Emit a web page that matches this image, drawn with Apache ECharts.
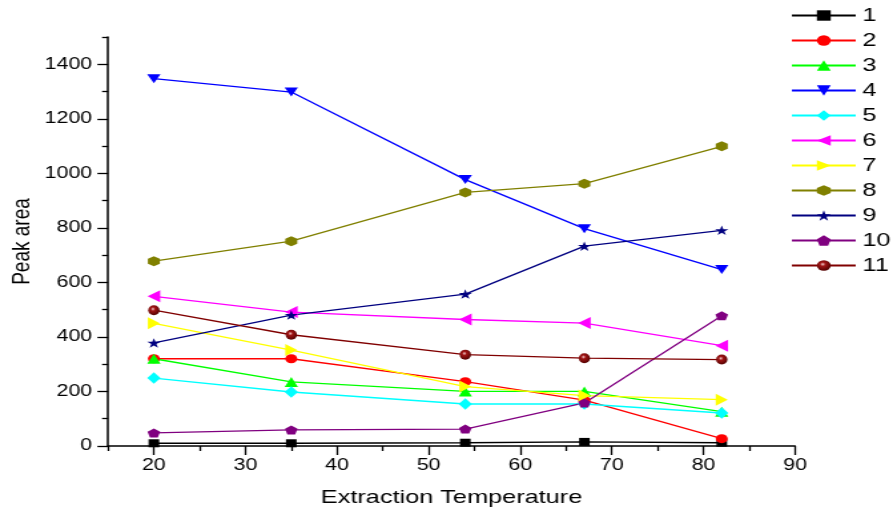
<!DOCTYPE html>
<html>
<head>
<meta charset="utf-8">
<script src="https://cdn.jsdelivr.net/npm/echarts@6/dist/echarts.min.js"></script>
<style>
  html, body { margin: 0; padding: 0; background: #fff; overflow: hidden; }
  #wrap { width: 893px; height: 515px; overflow: hidden; }
  /* the plot is laid out on a narrower canvas and widened to the page width */
  #chart { width: 671px; height: 515px; transform: scaleX(1.33085); transform-origin: 0 0; }
</style>
</head>
<body>
<div id="wrap"><div id="chart"></div></div>
<script>
// Extraction temperatures (x positions of each measurement)
const temperatures = [20, 35, 54, 67, 82];

// Peak areas for each compound, one array per numbered series
const seriesNames = ['1', '2', '3', '4', '5', '6', '7', '8', '9', '10', '11'];
const peak1  = [10, 10, 12, 15, 12];
const peak2  = [320, 320, 236, 168, 27];
const peak3  = [320, 235, 200, 200, 126];
const peak4  = [1347, 1298, 977, 797, 647];
const peak5  = [249, 198, 154, 154, 121];
const peak6  = [549, 491, 464, 451, 368];
const peak7  = [450, 352, 218, 185, 170];
const peak8  = [678, 751, 930, 962, 1099];
const peak9  = [378, 480, 557, 733, 791];
const peak10 = [48, 59, 62, 158, 478];
const peak11 = [498, 408, 335, 322, 317];
const peakValues = [peak1, peak2, peak3, peak4, peak5, peak6, peak7, peak8, peak9, peak10, peak11];

// Axis ranges and tick positions
const xRange = [15, 90];
const yRange = [0, 1500];
const xTickLabels = [20, 30, 40, 50, 60, 70, 80, 90];
const xMinorTicks = [15, 25, 35, 45, 55, 65, 75, 85];
const yTickLabels = [0, 200, 400, 600, 800, 1000, 1200, 1400];
const yMinorTicks = [100, 300, 500, 700, 900, 1100, 1300, 1500];

const colors = ['#000000', '#ff0000', '#00ff00', '#0000ff', '#00ffff', '#ff00ff',
                '#ffff00', '#808000', '#000080', '#800080', '#800000'];

const sphere = {
  type: 'radial', x: 0.42, y: 0.38, r: 0.65,
  colorStops: [
    { offset: 0, color: '#f2d0d0' },
    { offset: 0.3, color: '#a01515' },
    { offset: 1, color: '#500000' }
  ]
};

const symbols = [
  'rect',
  'circle',
  'path://M5,0 L10,9 L0,9 Z',
  'path://M0,0 L10,0 L5,9 Z',
  'path://M5,0 L10,5 L5,10 L0,5 Z',
  'path://M0,5 L9,0 L9,10 Z',
  'path://M0,0 L9,5 L0,10 Z',
  'path://M0,2.5 L4.33,0 L8.66,2.5 L8.66,7.5 L4.33,10 L0,7.5 Z',
  'path://M50,0 L61.8,35.1 L98.9,35.1 L68.9,57.1 L80.3,92.1 L50,70.4 L19.7,92.1 L31.1,57.1 L1.1,35.1 L38.2,35.1 Z',
  'path://M50,0 L97.6,34.5 L79.4,90.5 L20.6,90.5 L2.4,34.5 Z',
  'circle'
];
const symbolSizes = [8, 9, [10, 10], [10, 9], [10, 11.5], [9.5, 12], [9, 12], [9, 10], [10, 9.5], [9.5, 9], [8.5, 10]];

const series = seriesNames.map((name, i) => ({
  name: name,
  type: 'line',
  data: temperatures.map((t, j) => [t, peakValues[i][j]]),
  symbol: symbols[i],
  symbolSize: symbolSizes[i],
  showAllSymbol: true,
  xAxisIndex: 0,
  yAxisIndex: 0,
  lineStyle: { color: colors[i], width: 1.3 },
  itemStyle: { color: i === 10 ? sphere : colors[i], borderWidth: 0 },
  emphasis: { disabled: true },
  animation: false
}));

const chart = echarts.init(document.getElementById('chart'), null, { renderer: 'canvas', width: 671, height: 515 });
const fontFamily = '"Liberation Sans", Arial, sans-serif';
const axisColor = '#000';
const plainNumber = v => String(v);

chart.setOption({
  backgroundColor: '#ffffff',
  animation: false,
  grid: { left: 81.2, right: 73.6, top: 37, bottom: 69, containLabel: false, outerBoundsMode: 'none' },
  legend: {
    orient: 'vertical',
    left: 594,
    top: 6,
    padding: 0,
    itemWidth: 48,
    itemHeight: 13,
    itemGap: 6,
    textStyle: { fontFamily: fontFamily, fontSize: 19, color: '#000' },
    data: seriesNames
  },
  xAxis: [{
    type: 'value',
    position: 'bottom',
    min: xRange[0],
    max: xRange[1],
    interval: 5,
    name: 'Extraction Temperature',
    nameLocation: 'middle',
    nameGap: 42,
    nameMoveOverlap: false,
    nameTextStyle: { fontFamily: fontFamily, fontSize: 19, color: '#000' },
    axisLine: { show: true, lineStyle: { color: axisColor, width: 1.5 } },
    axisTick: { show: true, inside: false, length: 9, customValues: xTickLabels, lineStyle: { color: axisColor, width: 1.3 } },
    axisLabel: { fontFamily: fontFamily, fontSize: 16, color: '#000', margin: 12, customValues: xTickLabels, formatter: plainNumber },
    splitLine: { show: false }
  }, {
    type: 'value',
    position: 'bottom',
    offset: 0,
    min: xRange[0],
    max: xRange[1],
    interval: 5,
    axisLine: { show: false },
    axisTick: { show: true, inside: false, length: 5, customValues: xMinorTicks, lineStyle: { color: axisColor, width: 1.3 } },
    axisLabel: { show: false },
    splitLine: { show: false }
  }],
  yAxis: [{
    type: 'value',
    position: 'left',
    min: yRange[0],
    max: yRange[1],
    interval: 100,
    name: 'Peak area',
    nameLocation: 'middle',
    nameGap: 55,
    nameMoveOverlap: false,
    nameTextStyle: { fontFamily: fontFamily, fontSize: 19, color: '#000' },
    axisLine: { show: true, lineStyle: { color: axisColor, width: 1.5 } },
    axisTick: { show: true, inside: false, length: 8, customValues: yTickLabels, lineStyle: { color: axisColor, width: 1.3 } },
    axisLabel: { fontFamily: fontFamily, fontSize: 16, color: '#000', margin: 12, customValues: yTickLabels, formatter: plainNumber },
    splitLine: { show: false }
  }, {
    type: 'value',
    position: 'left',
    offset: 0,
    min: yRange[0],
    max: yRange[1],
    interval: 100,
    axisLine: { show: false },
    axisTick: { show: true, inside: false, length: 4.5, customValues: yMinorTicks, lineStyle: { color: axisColor, width: 1.3 } },
    axisLabel: { show: false },
    splitLine: { show: false }
  }],
  series: series
});
</script>
</body>
</html>
